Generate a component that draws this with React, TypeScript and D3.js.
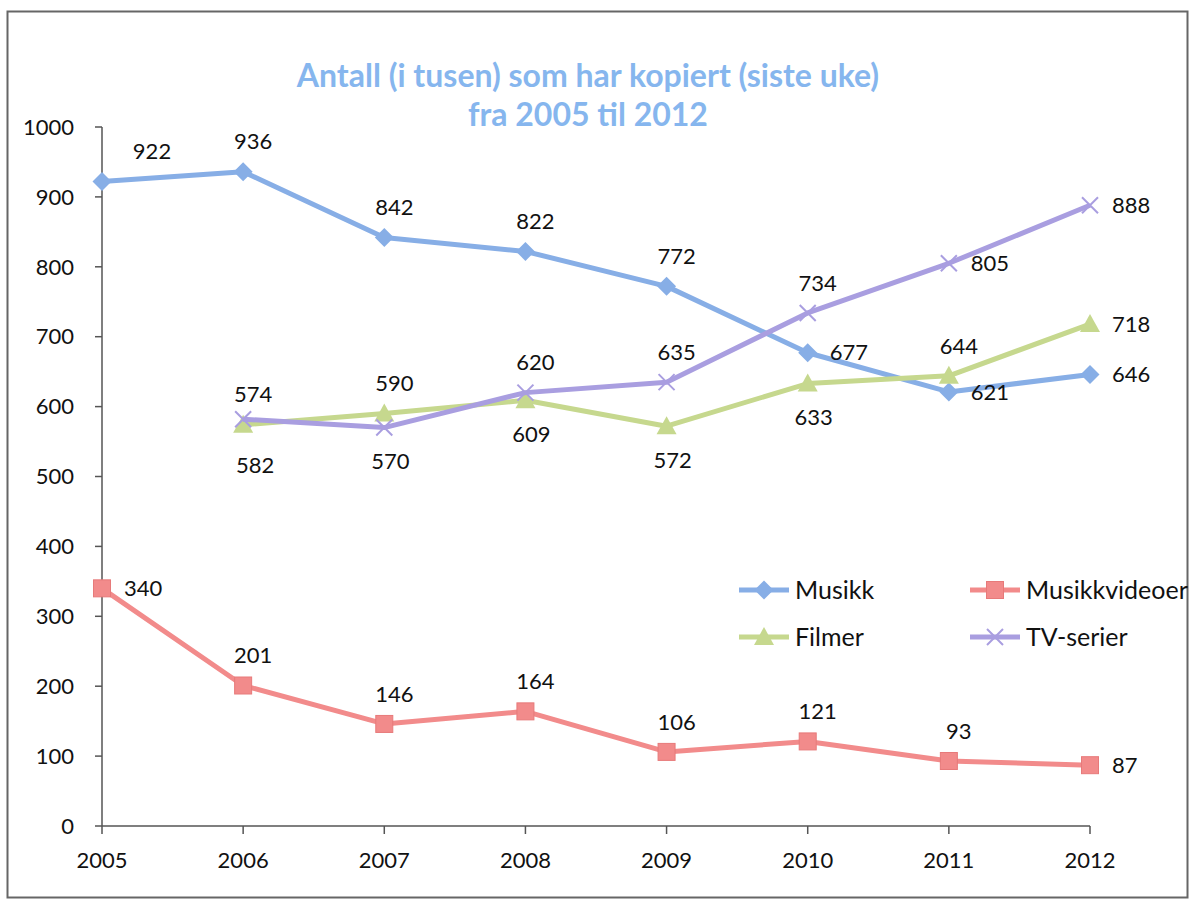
import React from "react";
import * as d3 from "d3";

const years = [2005, 2006, 2007, 2008, 2009, 2010, 2011, 2012];
const musikk = [922, 936, 842, 822, 772, 677, 621, 646];
const musikkvideoer = [340, 201, 146, 164, 106, 121, 93, 87];
const filmer = [null, 574, 590, 609, 572, 633, 644, 718];
const tvSerier = [null, 582, 570, 620, 635, 734, 805, 888];
const yTicks = [0, 100, 200, 300, 400, 500, 600, 700, 800, 900, 1000];

// label placement: a = above, b = below, r = right, ar = above-right
const musikkLabelPos = ["ar", "a", "a", "a", "a", "r", "r", "r"];
const mvLabelPos = ["r", "a", "a", "a", "a", "a", "a", "r"];
const filmerLabelPos = ["", "a", "a", "b", "b", "b", "a", "r"];
const tvLabelPos = ["", "bb", "b", "a", "a", "a", "r", "r"];

const W = 1197;
const H = 904;
const FONT = "Lato, 'Noto Sans', sans-serif";

const series = [
  { name: "Musikk", values: musikk, color: "#87aee6", marker: "diamond", pos: musikkLabelPos },
  { name: "Musikkvideoer", values: musikkvideoer, color: "#f28b8b", marker: "square", pos: mvLabelPos },
  { name: "Filmer", values: filmer, color: "#c6d88e", marker: "triangle", pos: filmerLabelPos },
  { name: "TV-serier", values: tvSerier, color: "#a99ee0", marker: "cross", pos: tvLabelPos },
];

function Marker({ type, x, y, color }: { type: string; x: number; y: number; color: string }) {
  if (type === "diamond") {
    const s = 9.5;
    return <path d={`M${x},${y - s}L${x + s},${y}L${x},${y + s}L${x - s},${y}Z`} fill={color} />;
  }
  if (type === "square") {
    const s = 8.5;
    return <rect x={x - s} y={y - s} width={2 * s} height={2 * s} fill={color} stroke="#e77a7a" strokeWidth={1} />;
  }
  if (type === "triangle") {
    const s = 10;
    return <path d={`M${x},${y - s}L${x + s},${y + s * 0.8}L${x - s},${y + s * 0.8}Z`} fill={color} />;
  }
  const s = 8;
  return (
    <path d={`M${x - s},${y - s}L${x + s},${y + s}M${x - s},${y + s}L${x + s},${y - s}`} stroke={color} strokeWidth={2} fill="none" />
  );
}

function labelOffset(p: string): [number, number, string] {
  switch (p) {
    case "a": return [10, -30, "middle"];
    case "ar": return [50, -30, "middle"];
    case "b": return [6, 34, "middle"];
    case "bb": return [12, 46, "middle"];
    case "r": return [22, 0, "start"];
    default: return [0, 0, "middle"];
  }
}

export default function App() {
  const x = d3.scalePoint<number>().domain(years).range([102, 1090]);
  const y = d3.scaleLinear().domain([0, 1000]).range([826, 127]);

  const line = d3
    .line<number | null>()
    .defined((d) => d !== null)
    .x((_, i) => x(years[i]) as number)
    .y((d) => y(d as number));

  return (
    <svg width={W} height={H} style={{ position: "absolute", left: 0, top: 0, background: "#fff" }} fontFamily={FONT}>
      <rect x={7.5} y={11.5} width={1180} height={886} fill="#fff" stroke="#666" strokeWidth={2} />
      <text x={588} y={87} textAnchor="middle" fill="#86b6ee" fontSize={32} fontWeight="bold">
        Antall (i tusen) som har kopiert (siste uke)
      </text>
      <text x={588} y={126} textAnchor="middle" fill="#86b6ee" fontSize={32} fontWeight="bold">
        fra 2005 til 2012
      </text>

      {/* y axis */}
      <line x1={102} x2={102} y1={y(1000)} y2={y(0)} stroke="#555" strokeWidth={1.5} />
      {yTicks.map((t) => (
        <g key={t}>
          <line x1={95} x2={102} y1={y(t)} y2={y(t)} stroke="#555" strokeWidth={1.5} />
          <text x={74} y={y(t)} dy="0.35em" textAnchor="end" fontSize={22} fill="#111">
            {t}
          </text>
        </g>
      ))}
      {/* x axis */}
      <line x1={102} x2={1090} y1={y(0)} y2={y(0)} stroke="#555" strokeWidth={1.5} />
      {years.map((yr) => (
        <g key={yr}>
          <line x1={x(yr)} x2={x(yr)} y1={y(0)} y2={y(0) + 8} stroke="#555" strokeWidth={1.5} />
          <text x={x(yr)} y={y(0) + 34} dy="0.35em" textAnchor="middle" fontSize={22} fill="#111">
            {yr}
          </text>
        </g>
      ))}

      {series.map((s) => (
        <g key={s.name}>
          <path d={line(s.values) || ""} fill="none" stroke={s.color} strokeWidth={5} strokeLinejoin="round" />
          {s.values.map((v, i) =>
            v === null ? null : (
              <Marker key={i} type={s.marker} x={x(years[i]) as number} y={y(v)} color={s.color} />
            )
          )}
        </g>
      ))}
      {series.map((s) => (
        <g key={s.name + "-labels"}>
          {s.values.map((v, i) => {
            if (v === null) return null;
            const [dx, dy, anchor] = labelOffset(s.pos[i]);
            return (
              <text
                key={i}
                x={(x(years[i]) as number) + dx}
                y={y(v) + dy}
                dy="0.35em"
                textAnchor={anchor}
                fontSize={22}
                fill="#111"
              >
                {v}
              </text>
            );
          })}
        </g>
      ))}

      {/* legend */}
      {series.map((s, i) => {
        const lx = i % 2 === 0 ? 739 : 970;
        const ly = i < 2 ? 590 : 637;
        return (
          <g key={s.name + "-legend"}>
            <line x1={lx} x2={lx + 50} y1={ly} y2={ly} stroke={s.color} strokeWidth={5} />
            <Marker type={s.marker} x={lx + 25} y={ly} color={s.color} />
            <text x={lx + 56} y={ly} dy="0.35em" fontSize={25} fill="#111">
              {s.name}
            </text>
          </g>
        );
      })}
    </svg>
  );
}
